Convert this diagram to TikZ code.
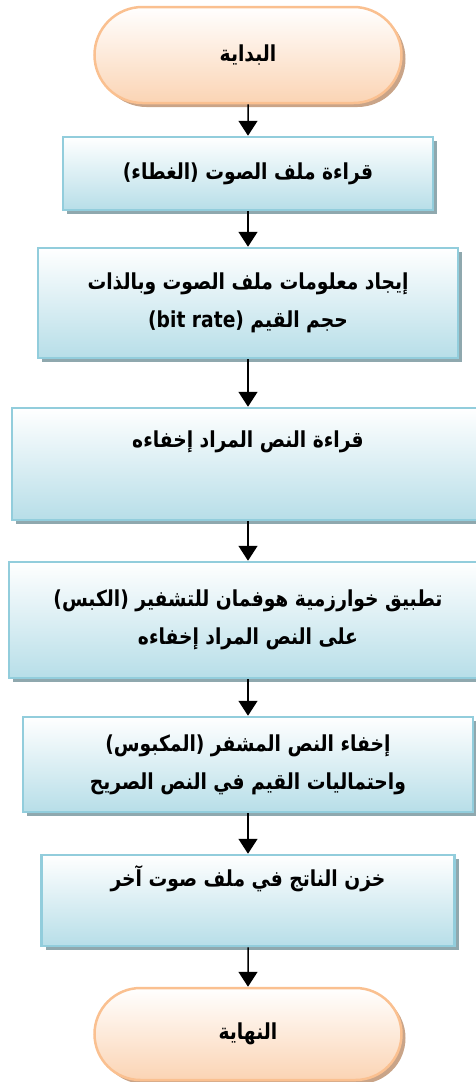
\documentclass[tikz,border=0pt]{standalone}
\usepackage{fontspec}
\usetikzlibrary{arrows.meta,shadows,shapes.misc}
\newfontfamily\arabicfont[Script=Arabic,FakeStretch=0.85]{DejaVu Sans}
\TeXXeTstate=1
\definecolor{boxline}{HTML}{92CDDC}
\definecolor{boxfill}{HTML}{B7DEE8}
\definecolor{boxshade}{HTML}{8FA8AE}
\definecolor{termline}{HTML}{FAC090}
\definecolor{termfill}{HTML}{FBD4B4}
\definecolor{termshade}{HTML}{C9A488}

\begin{document}
\begin{tikzpicture}[x=1pt, y=-1pt,
  base/.style={line width=2.5pt, top color=white, align=center, inner sep=0pt,
    font=\arabicfont\bfseries\fontsize{22}{38}\selectfont},
  box/.style={base, draw=boxline, bottom color=boxfill,
    drop shadow={shadow xshift=4pt, shadow yshift=-4pt, fill=boxshade, opacity=1}},
  term/.style={base, rounded rectangle, draw=termline, bottom color=termfill,
    drop shadow={shadow xshift=4pt, shadow yshift=-4pt, fill=termshade, opacity=1}},
  flow/.style={-{Triangle[width=19pt,length=15pt]}, line width=1.5pt}]
  \useasboundingbox (0,0) rectangle (476,1082);

  \node [term, minimum width=307pt, minimum height=96pt] (start) at (248,55)
    {\beginR البداية\endR};
  \node [box, minimum width=370pt, minimum height=73pt] (audio) at (248,173.5)
    {\beginR قراءة ملف الصوت (الغطاء)\endR};
  \node [box, minimum width=420pt, minimum height=110pt] (info) at (248,303)
    {\beginR إيجاد معلومات ملف الصوت وبالذات\endR\\
     \beginR حجم القيم \beginL(bit rate)\endL\endR};
  \node [box, minimum width=472pt, minimum height=112pt] (secret) at (248,464)
    {\beginR قراءة النص المراد إخفاءه\endR\\ \strut};
  \node [box, minimum width=478pt, minimum height=116pt] (huffman) at (248,620)
    {\beginR تطبيق خوارزمية هوفمان للتشفير (الكبس)\endR\\
     \beginR على النص المراد إخفاءه\endR};
  \node [box, minimum width=450pt, minimum height=95pt] (hide) at (248,764.5)
    {\beginR إخفاء النص المشفر (المكبوس)\endR\\
     \beginR واحتماليات القيم في النص الصريح\endR};
  \node [box, minimum width=413pt, minimum height=91pt] (store) at (248,900.5)
    {\beginR خزن الناتج في ملف صوت آخر\endR\\ \strut};
  \node [term, minimum width=307pt, minimum height=92pt] (finish) at (248,1034)
    {\beginR النهاية\endR};

  \draw [flow] (start) -- (audio);
  \draw [flow] (audio) -- (info);
  \draw [flow] (info) -- (secret);
  \draw [flow] (secret) -- (huffman);
  \draw [flow] (huffman) -- (hide);
  \draw [flow] (hide) -- (store);
  \draw [flow] (store) -- (finish);
\end{tikzpicture}
\end{document}
